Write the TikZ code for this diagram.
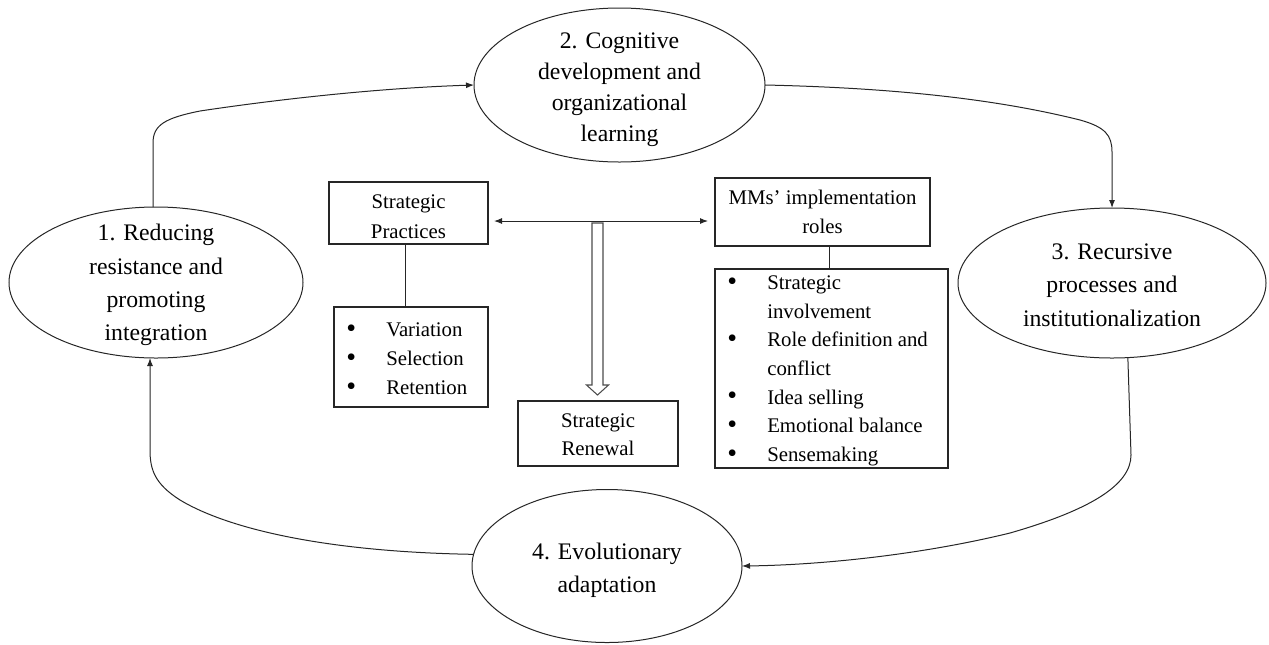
\documentclass[tikz,border=0pt]{standalone}
\usepackage{fontspec}
\setmainfont{Liberation Serif}
\usetikzlibrary{arrows.meta,calc,shapes.geometric}
\newcommand\bulitem{\makebox[30pt][l]{\raisebox{-0.5pt}{\fontsize{21}{21}\selectfont\textbullet}}}
\newcommand\bulgap{\makebox[30pt]{}}
\begin{document}
\begin{tikzpicture}[x=0.75pt,y=-0.75pt,
  ell/.style={draw=black!85, line width=0.75pt, ellipse, inner sep=0pt, outer sep=0pt},
  etxt/.style={align=center, font=\fontsize{17.8}{25}\selectfont, inner sep=0pt},
  box/.style={draw=black!85, line width=0.8pt, rectangle, inner sep=0pt, outer sep=0pt},
  btxt/.style={align=center, inner sep=0pt, font=\fontsize{15.6}{22.2}\selectfont},
  ltxt/.style={align=left, inner sep=0pt, anchor=west, font=\fontsize{15.6}{21.6}\selectfont},
  conn/.style={draw=black!85, line width=0.75pt},
  arr/.style={conn, -{Latex[length=6pt,width=4.5pt]}},
  darr/.style={conn, {Latex[length=6pt,width=4.5pt]}-{Latex[length=6pt,width=4.5pt]}},
]
\useasboundingbox (0,0) rectangle (1269,644);

% ellipses
\node[ell, minimum width=220.5pt, minimum height=113.25pt] (E1) at (156,282.5) {};
\node[etxt] (T1) at ($(E1)+(0,2.5)$) {1. Reducing\\resistance and\\promoting\\integration};
\node[ell, minimum width=218.25pt, minimum height=115.5pt] (E2) at (619.5,85) {};
\node[etxt, font=\fontsize{17.8}{23.3}\selectfont] (T2) at ($(E2)+(0,4.5)$) {2. Cognitive\\development and\\organizational\\learning};
\node[ell, minimum width=231pt, minimum height=112.5pt] (E3) at (1112,283) {};
\node[etxt] (T3) at ($(E3)+(0,2)$) {3. Recursive\\processes and\\institutionalization};
\node[ell, minimum width=202.5pt, minimum height=114.75pt] (E4) at (607,566) {};
\node[etxt] (T4) at ($(E4)+(0,4)$) {4. Evolutionary\\adaptation};

% boxes
\node[box, minimum width=119.25pt, minimum height=46.5pt] (SP) at (408.5,213) {};
\node[btxt, font=\fontsize{15.6}{22.5}\selectfont] (SPt) at ($(SP)+(0,4)$) {Strategic\\Practices};
\node[box, minimum width=115.5pt, minimum height=75pt] (VAR) at (411,357) {};
\node[ltxt, font=\fontsize{15.6}{21.75}\selectfont] (VARt) at ($(VAR.west)+(12,2)$)
  {\bulitem Variation\\\bulitem Selection\\\bulitem Retention};
\node[box, minimum width=161.25pt, minimum height=51pt] (MM) at (822.5,212) {};
\node[btxt] (MMt) at (MM) {MMs’ implementation\\roles};
\node[box, minimum width=174.75pt, minimum height=149.25pt] (B2) at (831.5,368.5) {};
\node[ltxt, font=\fontsize{15.6}{21.5}\selectfont] (B2t) at ($(B2.west)+(12,2.5)$)
  {\bulitem Strategic\\\bulgap involvement\\\bulitem Role definition and\\\bulgap conflict\\\bulitem Idea selling\\\bulitem Emotional balance\\\bulitem Sensemaking};
\node[box, minimum width=120pt, minimum height=48.75pt] (SR) at (598,433.5) {};
\node[btxt, font=\fontsize{15.6}{21}\selectfont] (SRt) at ($(SR)+(0,1.5)$) {Strategic\\Renewal};

% helper coordinates
\coordinate (a1) at (153,143);
\coordinate (a2) at (1112,152);
\coordinate (a3) at (1131,455);
\coordinate (a4) at (150,450);
\coordinate (c1) at (405,0);
\coordinate (c2) at (829,0);

% cycle connectors
\draw[arr] (a1 |- E1.north) -- (a1) .. controls (153,125) and (165,118) .. (200,111)
  .. controls (280,99) and (380,88) .. (E2.west);
\draw[arr] (E2.east) .. controls (900,88) and (1000,100) .. (1080,120)
  .. controls (1105,127) and (1112,135) .. (a2) -- (E3.north);
\draw[arr] (E3.-78) -- (a3) .. controls (1131,485) and (1090,510) .. (1010,533)
  .. controls (920,555) and (820,565) .. (E4.east);
\draw[arr] (E4.175) .. controls (330,552) and (230,530) .. (180,500)
  .. controls (155,484) and (150,470) .. (a4) -- (a4 |- E1.south);

% inner connectors
\draw[conn] (SP.south -| c1) -- (VAR.north -| c1);
\draw[conn] (MM.south -| c2) -- (B2.north -| c2);
\draw[darr] ($(SP.east)+(6,8)$) -- ($(MM.west)+(-7,9)$);

% hollow arrow to Strategic Renewal
\draw[line width=0.8pt, draw=black!70, line join=miter]
  (592,223) -- (603,223) -- (603,385) -- (608.5,385) -- ($(SR.north)+(-0.5,-6)$)
  -- (586.5,385) -- (592,385) -- cycle;
\end{tikzpicture}
\end{document}
